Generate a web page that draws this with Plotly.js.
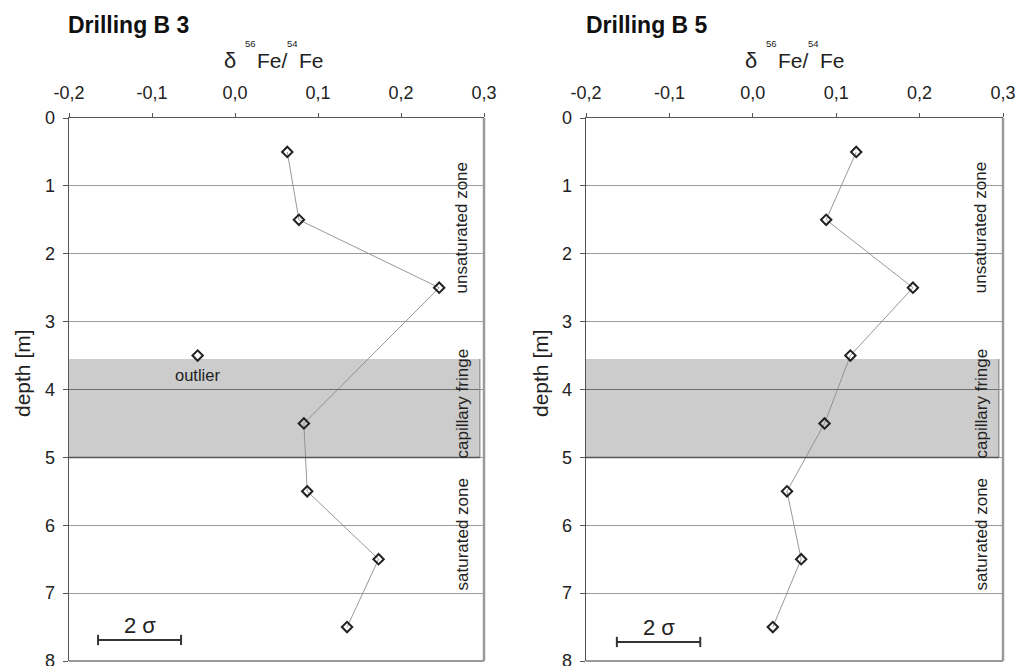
<!DOCTYPE html>
<html>
<head>
<meta charset="utf-8">
<script src="https://cdn.plot.ly/plotly-3.0.1.min.js"></script>
<style>html,body{margin:0;padding:0;background:#fff;}#chart{width:1017px;height:666px;}</style>
</head>
<body>
<div id="chart"></div>
<script>
// ---- data ----
const panelTitles = ['Drilling B 3', 'Drilling B 5'];
const b3Depths = [0.5, 1.5, 2.5, 4.5, 5.5, 6.5, 7.5];
const b3Values = [0.063, 0.077, 0.246, 0.083, 0.087, 0.173, 0.135];
const b3OutlierDepths = [3.5];
const b3OutlierValues = [-0.045];
const b5Depths = [0.5, 1.5, 2.5, 3.5, 4.5, 5.5, 6.5, 7.5];
const b5Values = [0.124, 0.088, 0.192, 0.117, 0.086, 0.041, 0.058, 0.024];
const xTickVals = [-0.2, -0.1, 0.0, 0.1, 0.2, 0.3];
const xTickText = ['-0,2', '-0,1', '0,0', '0,1', '0,2', '0,3'];
const yTickVals = [0, 1, 2, 3, 4, 5, 6, 7, 8];
const yAxisTitle = 'depth [m]';
const fringeDepths = [3.55, 5.0];      // capillary fringe band (top, bottom)
const fringeValues = [-0.2, 0.295];    // band extent along x
const zoneNames = ['unsaturated zone', 'capillary fringe', 'saturated zone'];
const zoneDepths = [1.62, 4.2, 6.13];
const zoneValue = 0.274;
const sigmaBarB3 = [-0.165, -0.065];
const sigmaBarB5 = [-0.163, -0.063];
const sigmaDepthB3 = 7.69;
const sigmaDepthB5 = 7.72;
const outlierLabel = 'outlier';

// ---- layout helpers (pixel -> paper) ----
const W = 1017, H = 666;
const px = v => v / W;
const py = v => 1 - v / H;
const FONT = '"Liberation Sans", Arial, sans-serif';
const TXT = '#222222';

const markerStyle = {symbol: 'diamond-open', size: 8, color: '#222222', line: {width: 2, color: '#222222'}};
const lineStyle = {color: '#8c8c8c', width: 0.9};

const traces = [
  {x: b3Values, y: b3Depths, xaxis: 'x', yaxis: 'y', mode: 'lines+markers', marker: markerStyle, line: lineStyle, showlegend: false},
  {x: b3OutlierValues, y: b3OutlierDepths, xaxis: 'x', yaxis: 'y', mode: 'markers', marker: markerStyle, showlegend: false},
  {x: b5Values, y: b5Depths, xaxis: 'x2', yaxis: 'y2', mode: 'lines+markers', marker: markerStyle, line: lineStyle, showlegend: false}
];

function xAxis(domain, anchor) {
  return {
    domain: domain, anchor: anchor, side: 'top', range: [-0.2, 0.3],
    tickvals: xTickVals, ticktext: xTickText, ticks: 'outside', ticklen: 4, tickcolor: '#555',
    showline: true, linecolor: '#555', linewidth: 1.5, showgrid: false, zeroline: false,
    tickfont: {family: FONT, size: 18, color: TXT}, ticklabelstandoff: 6
  };
}
function yAxis(domain, anchor) {
  return {
    domain: domain, anchor: anchor, range: [8, 0], tickvals: yTickVals,
    ticks: 'outside', ticklen: 5, tickcolor: '#555',
    showline: true, linecolor: '#555', linewidth: 1.5, showgrid: true, gridcolor: '#9a9a9a', gridwidth: 1,
    zeroline: false, tickfont: {family: FONT, size: 18, color: TXT}, ticklabelstandoff: 4,
    ticklabeloverflow: 'allow'
  };
}

const yDom = [py(661), py(118)];
const layout = {
  width: W, height: H, margin: {l: 0, r: 0, t: 0, b: 0},
  paper_bgcolor: '#ffffff', plot_bgcolor: '#ffffff', showlegend: false,
  xaxis: xAxis([px(69), px(484)], 'y'),
  yaxis: yAxis(yDom, 'x'),
  xaxis2: xAxis([px(586), px(1003)], 'y2'),
  yaxis2: yAxis(yDom, 'x2'),
  shapes: [],
  annotations: []
};

const panels = [
  {xa: 'x', ya: 'y', bar: sigmaBarB3, barDepth: sigmaDepthB3, deltaX: 230, title: panelTitles[0], titleX: 66, yTitleX: 22},
  {xa: 'x2', ya: 'y2', bar: sigmaBarB5, barDepth: sigmaDepthB5, deltaX: 751, title: panelTitles[1], titleX: 584, yTitleX: 540}
];

panels.forEach(p => {
  // capillary fringe band
  layout.shapes.push({type: 'rect', xref: p.xa, yref: p.ya, x0: fringeValues[0], x1: fringeValues[1], y0: fringeDepths[0], y1: fringeDepths[1], fillcolor: '#cccccc', line: {width: 0}, layer: 'below'});
  layout.shapes.push({type: 'line', xref: p.xa, yref: p.ya, x0: fringeValues[0], x1: fringeValues[1], y0: 4, y1: 4, line: {color: '#6e6e6e', width: 1.2}, layer: 'above'});
  layout.shapes.push({type: 'line', xref: p.xa, yref: p.ya, x0: fringeValues[1], x1: fringeValues[1], y0: fringeDepths[0], y1: fringeDepths[1], line: {color: '#8a8a8a', width: 1.2}, layer: 'above'});
  layout.shapes.push({type: 'line', xref: p.xa, yref: p.ya, x0: fringeValues[0], x1: fringeValues[1], y0: fringeDepths[1], y1: fringeDepths[1], line: {color: '#555555', width: 1.5}, layer: 'above'});
  // right / bottom frame
  layout.shapes.push({type: 'line', xref: p.xa + ' domain', yref: p.ya + ' domain', x0: 1, x1: 1, y0: 0, y1: 1, line: {color: '#9a9a9a', width: 2.5}});
  layout.shapes.push({type: 'line', xref: p.xa + ' domain', yref: p.ya + ' domain', x0: 0, x1: 1, y0: 0, y1: 0, line: {color: '#9a9a9a', width: 2}});
  // 2 sigma scale bar
  const capH = 0.075;
  layout.shapes.push({type: 'line', xref: p.xa, yref: p.ya, x0: p.bar[0], x1: p.bar[1], y0: p.barDepth, y1: p.barDepth, line: {color: '#333', width: 2}});
  layout.shapes.push({type: 'line', xref: p.xa, yref: p.ya, x0: p.bar[0], x1: p.bar[0], y0: p.barDepth - capH, y1: p.barDepth + capH, line: {color: '#333', width: 2}});
  layout.shapes.push({type: 'line', xref: p.xa, yref: p.ya, x0: p.bar[1], x1: p.bar[1], y0: p.barDepth - capH, y1: p.barDepth + capH, line: {color: '#333', width: 2}});
  layout.annotations.push({xref: p.xa, yref: p.ya, x: (p.bar[0] + p.bar[1]) / 2, y: p.barDepth - 0.21, text: '2 σ', showarrow: false, font: {family: FONT, size: 22, color: TXT}, xanchor: 'center', yanchor: 'middle'});
  // zone labels
  zoneNames.forEach((z, i) => {
    layout.annotations.push({xref: p.xa, yref: p.ya, x: zoneValue, y: zoneDepths[i], text: z, textangle: -90, showarrow: false, font: {family: FONT, size: 17, color: TXT}, xanchor: 'center', yanchor: 'middle'});
  });
  // y-axis title
  layout.annotations.push({xref: 'paper', yref: 'paper', x: px(p.yTitleX), y: py(373), text: yAxisTitle, textangle: -90, showarrow: false, font: {family: FONT, size: 21, color: TXT}, xanchor: 'center', yanchor: 'middle'});
  // panel title
  layout.annotations.push({xref: 'paper', yref: 'paper', x: px(p.titleX), y: py(25), text: '<b>' + p.title + '</b>', showarrow: false, font: {family: FONT, size: 23, color: '#111'}, xanchor: 'left', yanchor: 'middle'});
  // x-axis title: δ 56Fe/ 54Fe
  const d = p.deltaX;
  layout.annotations.push({xref: 'paper', yref: 'paper', x: px(d), y: py(61), text: 'δ', showarrow: false, font: {family: FONT, size: 22, color: TXT}, xanchor: 'center', yanchor: 'middle'});
  layout.annotations.push({xref: 'paper', yref: 'paper', x: px(d + 20), y: py(43.5), text: '56', showarrow: false, font: {family: FONT, size: 9.5, color: TXT}, xanchor: 'center', yanchor: 'middle'});
  layout.annotations.push({xref: 'paper', yref: 'paper', x: px(d + 25), y: py(61), text: 'Fe/', showarrow: false, font: {family: FONT, size: 21, color: TXT}, xanchor: 'left', yanchor: 'middle'});
  layout.annotations.push({xref: 'paper', yref: 'paper', x: px(d + 62), y: py(43.5), text: '54', showarrow: false, font: {family: FONT, size: 9.5, color: TXT}, xanchor: 'center', yanchor: 'middle'});
  layout.annotations.push({xref: 'paper', yref: 'paper', x: px(d + 67), y: py(61), text: 'Fe', showarrow: false, font: {family: FONT, size: 21, color: TXT}, xanchor: 'left', yanchor: 'middle'});
});

// outlier label
layout.annotations.push({xref: 'x', yref: 'y', x: b3OutlierValues[0], y: b3OutlierDepths[0] + 0.28, text: outlierLabel, showarrow: false, font: {family: FONT, size: 16.5, color: TXT}, xanchor: 'center', yanchor: 'middle'});

Plotly.newPlot('chart', traces, layout, {displayModeBar: false, staticPlot: true});
</script>
</body>
</html>
